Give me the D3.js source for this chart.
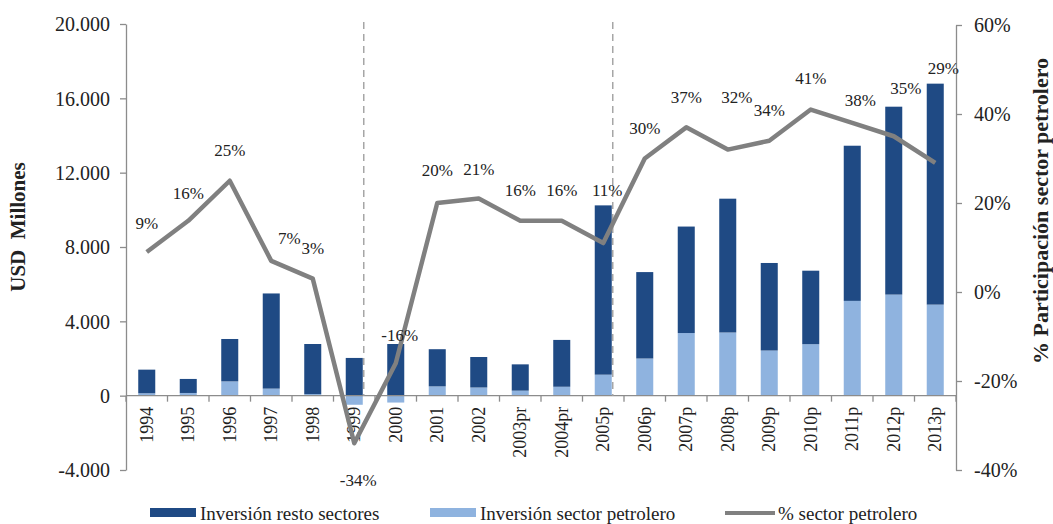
<!DOCTYPE html>
<html>
<head>
<meta charset="utf-8">
<script src="https://cdn.jsdelivr.net/npm/d3@7"></script>
<style>
  html, body { margin: 0; padding: 0; background: #fff; }
  svg { display: block; font-family: "Liberation Serif", "DejaVu Serif", serif; }
</style>
</head>
<body>
<div id="chart"></div>
<script>
// datos (USD millones y %)
const years = ['1994', '1995', '1996', '1997', '1998', '1999', '2000', '2001', '2002', '2003pr',
  '2004pr', '2005p', '2006p', '2007p', '2008p', '2009p', '2010p', '2011p', '2012p', '2013p'];
const restoSectores = [1270, 755, 2280, 5120, 2695, 2030, 2780, 2000, 1640, 1415,
  2520, 9110, 4650, 5730, 7200, 4710, 3955, 8350, 10110, 11890];
const sectorPetrolero = [130, 145, 770, 380, 85, -490, -370, 500, 440, 270,
  480, 1130, 2000, 3370, 3400, 2430, 2770, 5100, 5440, 4900];
const pctPetrolero = [9, 16, 25, 7, 3, -34, -16, 20, 21, 16, 16, 11, 30, 37, 32, 34, 41, 38, 35, 29];
const leftTicks = [-4000, 0, 4000, 8000, 12000, 16000, 20000];
const rightTicks = [-40, -20, 0, 20, 40, 60];
const dashedAfter = ['1999', '2005p'];

// desplazamiento de etiquetas (px)
const labelDx = [0, 0, 0, 18, 0, 4, 4, 0, 0, 0, 0, 4, 0, 0, 9, 0, 0, 8, 12, 8];
const labelDy = [-29, -28, -31, -23, -31, 37, -28, -33, -30, -31, -31, -53, -30, -30, -53, -31, -32, -23, -48, -95];

const width = 1053, height = 524;
const plot = { left: 126, right: 956, top: 24, bottom: 470 };
const darkBlue = '#1f4a84', lightBlue = '#8fb3df', lineGrey = '#808080', axisGrey = '#8c8c8c';

const svg = d3.select('#chart').append('svg')
  .attr('width', width).attr('height', height);

const x = d3.scaleBand().domain(years)
  .range([plot.left, plot.right])
  .paddingInner(0.59).paddingOuter(0.295);
const step = x.step();
const cx = d => x(d) + x.bandwidth() / 2;

const yL = d3.scaleLinear().domain([-4000, 20000]).range([plot.bottom, plot.top]);
const yR = d3.scaleLinear().domain([-40, 60]).range([plot.bottom, plot.top + 1]);

const locale = d3.formatLocale({ decimal: ',', thousands: '.', grouping: [3], currency: ['', ''], minus: '-' });
const fmt = locale.format(',');

// barras apiladas
const rows = years.map((y, i) => {
  const p = sectorPetrolero[i], r = restoSectores[i];
  return { year: y, p, r, base: p > 0 ? p : 0 };
});

svg.append('g').selectAll('rect').data(rows).enter().append('rect')
  .attr('x', d => x(d.year))
  .attr('width', x.bandwidth())
  .attr('y', d => yL(Math.max(0, d.p)))
  .attr('height', d => Math.abs(yL(d.p) - yL(0)))
  .attr('fill', lightBlue);

svg.append('g').selectAll('rect').data(rows).enter().append('rect')
  .attr('x', d => x(d.year))
  .attr('width', x.bandwidth())
  .attr('y', d => yL(d.base + d.r))
  .attr('height', d => yL(d.base) - yL(d.base + d.r))
  .attr('fill', darkBlue);

// eje x
const y0 = yL(0);
svg.append('line')
  .attr('x1', plot.left).attr('x2', plot.right)
  .attr('y1', y0).attr('y2', y0)
  .attr('stroke', axisGrey).attr('stroke-width', 1.3);
svg.append('g').selectAll('line').data(d3.range(years.length + 1)).enter().append('line')
  .attr('x1', i => plot.left + i * step).attr('x2', i => plot.left + i * step)
  .attr('y1', y0).attr('y2', y0 + 6)
  .attr('stroke', axisGrey).attr('stroke-width', 1.3);
svg.append('g').selectAll('text').data(years).enter().append('text')
  .attr('transform', d => `translate(${cx(d) + 6},${y0 + 11}) rotate(-90)`)
  .attr('text-anchor', 'end')
  .style('font-size', '18px')
  .attr('fill', '#222')
  .text(d => d);

// lineas punteadas
svg.append('g').selectAll('line').data(dashedAfter).enter().append('line')
  .attr('x1', d => cx(d) + x.bandwidth() / 2 + 1)
  .attr('x2', d => cx(d) + x.bandwidth() / 2 + 1)
  .attr('y1', plot.top - 2).attr('y2', y0)
  .attr('stroke', '#a6a6a6').attr('stroke-width', 1.5)
  .attr('stroke-dasharray', '7,5');

// eje izquierdo
const axisL = svg.append('g')
  .attr('transform', `translate(${plot.left},0)`)
  .call(d3.axisLeft(yL).tickValues(leftTicks).tickFormat(fmt).tickSize(6).tickSizeOuter(0));
axisL.select('.domain').attr('stroke', axisGrey).attr('stroke-width', 1.3);
axisL.selectAll('.tick line').attr('stroke', axisGrey).attr('stroke-width', 1.3);
axisL.selectAll('text').style('font-size', '20px').attr('fill', '#222')
  .attr('x', -16).attr('dy', '0.34em');
axisL.attr('font-family', null).attr('font-size', null);

// eje derecho
const axisR = svg.append('g')
  .attr('transform', `translate(${plot.right},0)`)
  .call(d3.axisRight(yR).tickValues(rightTicks).tickFormat(d => d + '%').tickSize(6).tickSizeOuter(0));
axisR.select('.domain').attr('stroke', axisGrey).attr('stroke-width', 1.3);
axisR.selectAll('.tick line').attr('stroke', axisGrey).attr('stroke-width', 1.3);
axisR.selectAll('text').style('font-size', '20px').attr('fill', '#222')
  .attr('x', 18).attr('dy', '0.34em');
axisR.attr('font-family', null).attr('font-size', null);

// linea %
const line = d3.line().x((d, i) => cx(years[i])).y(d => yR(d));
svg.append('path').datum(pctPetrolero)
  .attr('d', line)
  .attr('fill', 'none')
  .attr('stroke', lineGrey)
  .attr('stroke-width', 4.5)
  .attr('stroke-linejoin', 'round');

svg.append('g').selectAll('text').data(pctPetrolero).enter().append('text')
  .attr('x', (d, i) => cx(years[i]) + labelDx[i])
  .attr('y', (d, i) => yR(d) + labelDy[i])
  .attr('dy', '0.35em')
  .attr('text-anchor', 'middle')
  .style('font-size', '17px')
  .attr('fill', '#222')
  .text(d => d + '%');

// titulos de ejes
svg.append('text')
  .attr('transform', `translate(25,${227}) rotate(-90)`)
  .attr('text-anchor', 'middle')
  .style('font-size', '21px').style('font-weight', 'bold')
  .attr('fill', '#222')
  .attr('xml:space', 'preserve')
  .text('USD  Millones');
svg.append('text')
  .attr('transform', `translate(1048,${211}) rotate(-90)`)
  .attr('text-anchor', 'middle')
  .style('font-size', '22px').style('font-weight', 'bold')
  .attr('fill', '#222')
  .text('% Participación sector petrolero');

// leyenda
const legend = [
  { name: 'Inversión resto sectores', type: 'rect', color: darkBlue, x: 150 },
  { name: 'Inversión sector petrolero', type: 'rect', color: lightBlue, x: 430 },
  { name: '% sector petrolero', type: 'line', color: lineGrey, x: 725 },
];
const lg = svg.append('g').selectAll('g').data(legend).enter().append('g')
  .attr('transform', d => `translate(${d.x},512)`);
lg.filter(d => d.type === 'rect').append('rect')
  .attr('x', 0).attr('y', -4).attr('width', 46).attr('height', 9)
  .attr('fill', d => d.color);
lg.filter(d => d.type === 'line').append('line')
  .attr('x1', 0).attr('x2', 50).attr('y1', 1).attr('y2', 1)
  .attr('stroke', d => d.color).attr('stroke-width', 4);
lg.append('text')
  .attr('x', d => d.type === 'line' ? 53 : 50)
  .attr('y', 8)
  .style('font-size', '19px')
  .attr('fill', '#222')
  .text(d => d.name);
</script>
</body>
</html>
